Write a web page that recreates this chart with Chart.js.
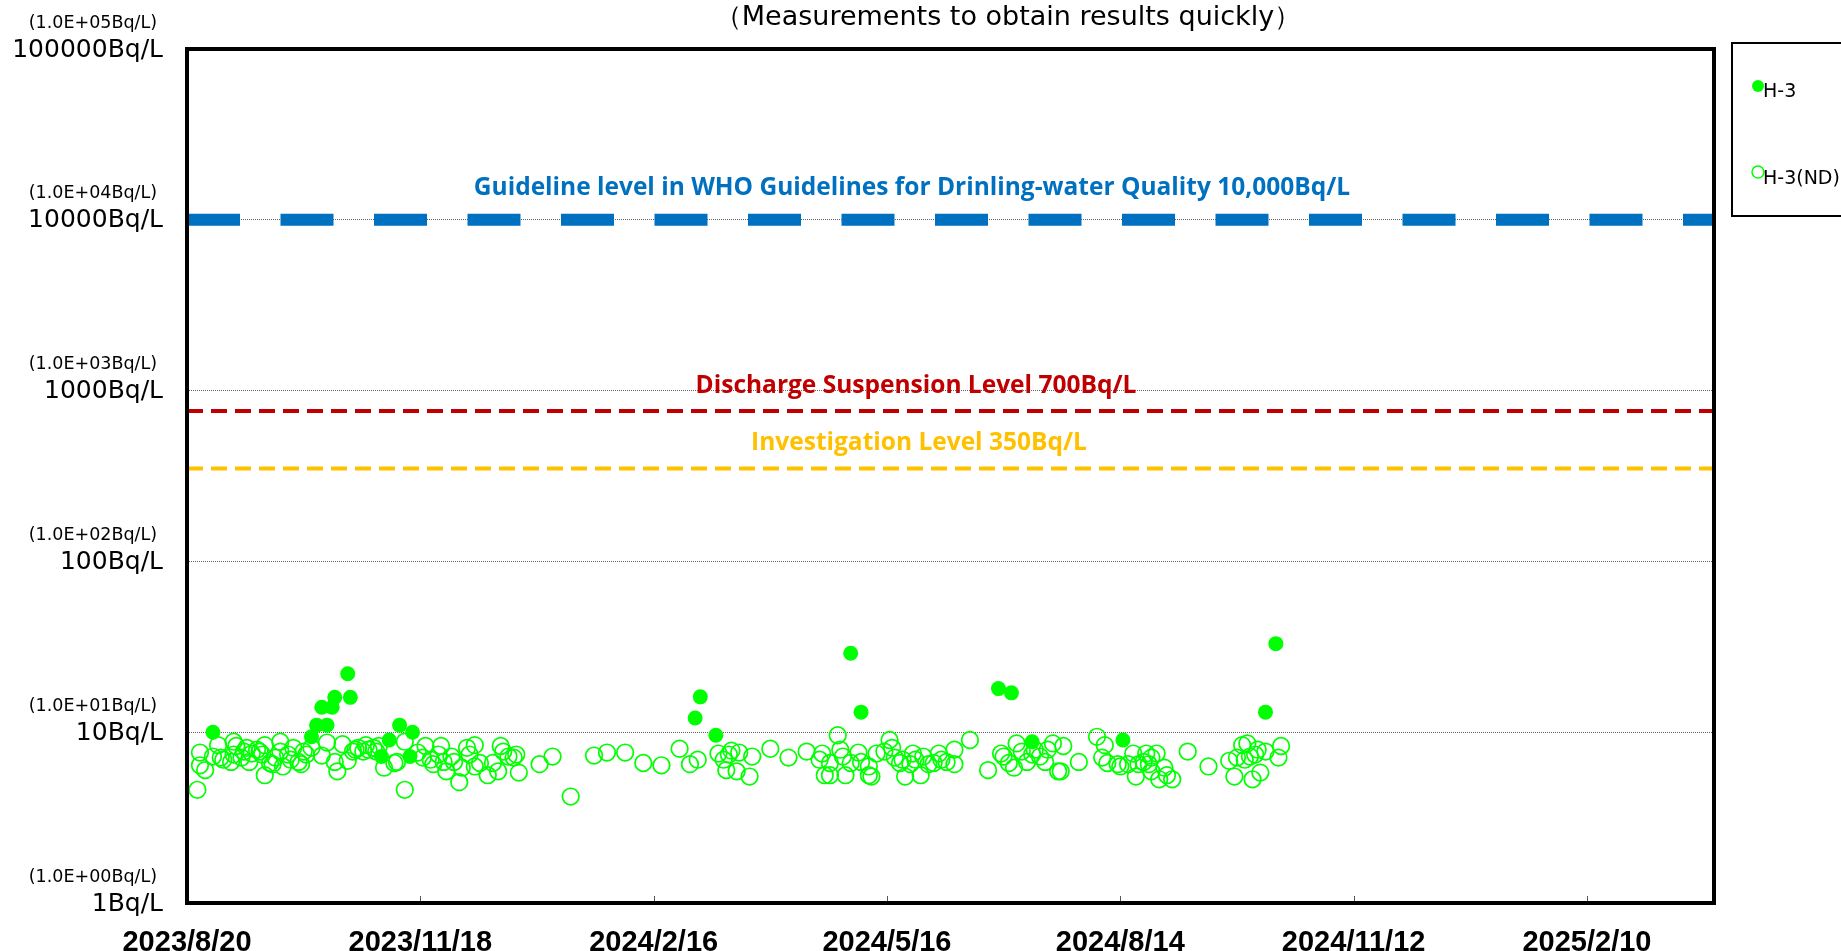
<!DOCTYPE html>
<html>
<head>
<meta charset="utf-8">
<script src="https://cdn.jsdelivr.net/npm/chart.js@4.4.1/dist/chart.umd.min.js"></script>
<style>
  html, body { margin: 0; padding: 0; background: #fff; }
  canvas { display: block; }
</style>
</head>
<body>
<canvas id="chart" width="1841" height="951"></canvas>
<script>
// x values are days since 2023/8/20 (first tick)
const xTickDays = [0, 90, 180, 270, 360, 450, 540];
const xTickLabels = ['2023/8/20', '2023/11/18', '2024/2/16', '2024/5/16', '2024/8/14', '2024/11/12', '2025/2/10'];
const xMaxDay = 589;

const yTickValues = [1, 10, 100, 1000, 10000, 100000];
const yTickMain = ['1Bq/L', '10Bq/L', '100Bq/L', '1000Bq/L', '10000Bq/L', '100000Bq/L'];
const yTickSci = ['(1.0E+00Bq/L)', '(1.0E+01Bq/L)', '(1.0E+02Bq/L)', '(1.0E+03Bq/L)', '(1.0E+04Bq/L)', '(1.0E+05Bq/L)'];

// H-3 detected
const detDays = [10, 48, 50, 52, 54, 56, 57, 62, 63, 75, 78, 82, 86, 87, 196, 198, 204, 256, 260, 313, 318, 326, 361, 416, 420];
const detValues = [10, 9.4, 11, 14, 11, 14, 16, 22, 16, 7.2, 9.0, 11, 7.2, 10, 12.1, 16.1, 9.6, 29, 13.1, 18, 17, 8.8, 9.0, 13.1, 33];

// H-3 not detected (detection limit)
const ndDays = [
  4, 5, 5, 7, 10, 12, 13, 14, 17, 18, 18, 19, 21, 22, 23, 24, 25, 27, 28, 29,
  30, 30, 32, 33, 34, 36, 36, 37, 39, 40, 41, 43, 44, 45, 46, 48, 52, 54, 57, 58,
  60, 62, 64, 65, 66, 68, 69, 70, 72, 73, 74, 76, 80, 81, 84, 84,
  89, 92, 91, 94, 95, 97, 98, 99, 100, 102, 103, 105, 106, 108, 109, 111, 111, 113, 116, 118,
  120, 121, 122, 124, 126, 127, 128, 136, 141, 148, 157, 162, 169,
  176, 183, 190, 194, 197, 205, 207, 208, 209, 210, 212, 213, 217, 218, 225, 232, 239, 244, 245,
  246, 248, 248, 251, 252, 253, 254,
  256, 259, 260, 263, 264, 263, 266, 269, 271, 272, 273, 275, 276, 277, 279, 280, 281, 283, 284, 286,
  288, 290, 291, 293, 296, 296, 302, 309, 314, 315, 317, 319, 320, 322, 324, 326, 327, 329, 331, 332,
  334, 336, 338, 337,
  344, 351, 354, 353, 355, 359, 360, 363, 365, 366, 367, 369, 370, 371, 372, 372, 374, 375, 377, 378,
  380, 386, 394, 402, 404, 405, 407, 408, 409, 410, 411, 412, 413, 414, 416, 421, 422
];
const ndValues = [
  4.6, 7.6, 6.4, 6.0, 7.2, 8.4, 7.1, 6.9, 6.7, 8.8, 7.4, 8.3, 7.1, 7.7, 8.1, 6.7, 7.5, 7.9, 7.7, 7.4,
  5.6, 8.4, 6.6, 6.5, 7.1, 8.8, 7.7, 6.3, 7.4, 6.9, 8.1, 6.7, 6.5, 7.7, 7.4, 8.1, 7.3, 8.7, 6.7, 5.9,
  8.5, 6.8, 7.7, 7.9, 8.1, 7.7, 8.4, 7.9, 8.1, 7.7, 8.3, 6.2, 6.6, 6.7, 4.6, 8.8,
  7.6, 8.3, 7.1, 6.9, 6.5, 7.4, 8.3, 6.7, 5.9, 7.2, 6.7, 5.1, 6.2, 8.1, 7.4, 8.4, 6.3, 6.6, 5.6, 6.6,
  5.9, 8.3, 7.7, 7.2, 7.1, 7.4, 5.8, 6.5, 7.2, 4.2, 7.3, 7.6, 7.6,
  6.6, 6.4, 8.0, 6.5, 6.9, 7.5, 6.9, 6.0, 7.4, 7.8, 5.9, 7.6, 5.5, 7.2, 8.0, 7.1, 7.7, 6.9, 7.5,
  5.6, 5.6, 6.6, 9.6, 7.9, 7.2, 5.6,
  6.6, 7.6, 6.7, 6.3, 5.5, 5.6, 7.5, 7.7, 9.0, 8.1, 7.1, 6.6, 6.9, 5.5, 6.5, 7.5, 6.9, 5.6, 7.2, 6.5,
  6.6, 7.5, 6.9, 6.7, 6.5, 7.9, 9.0, 6.0, 7.5, 7.2, 6.6, 6.2, 8.6, 7.7, 6.7, 7.4, 7.9, 7.2, 6.7, 7.9,
  8.6, 5.9, 8.3, 5.9,
  6.7, 9.4, 8.4, 7.1, 6.6, 6.5, 6.3, 6.5, 7.5, 5.5, 6.5, 6.7, 7.5, 6.5, 7.1, 5.9, 7.5, 5.3, 6.2, 5.6,
  5.3, 7.7, 6.3, 6.8, 5.5, 7.1, 8.4, 6.9, 8.6, 7.2, 5.3, 7.4, 7.9, 5.8, 7.7, 7.1, 8.3
];

const whoLevel = 10000;
const dischargeLevel = 760;
const investigationLevel = 350;

const GREEN = '#00ff00';

const toPoints = (days, vals) => days.map((d, i) => ({ x: d, y: vals[i] }));
const levelLine = v => [{ x: 0, y: v }, { x: xMaxDay, y: v }];

const overlay = {
  id: 'overlay',
  beforeDraw(chart){
    const ctx = chart.ctx;
    ctx.save();
    ctx.fillStyle = '#fff';
    ctx.fillRect(0, 0, chart.width, chart.height);
    ctx.restore();
  },
  afterDraw(chart){
    const { ctx, chartArea: a, scales: { x, y } } = chart;
    ctx.save();

    // y labels, two lines each
    ctx.fillStyle = '#000';
    ctx.textAlign = 'right';
    ctx.textBaseline = 'middle';
    yTickValues.forEach((v, i) => {
      const py = y.getPixelForValue(v);
      ctx.font = '25px "DejaVu Sans"';
      ctx.fillText(yTickMain[i], 163, py + 1);
      ctx.font = '17.5px "DejaVu Sans"';
      ctx.fillText(yTickSci[i], 157, py - 26);
    });

    // small tick marks inside the bottom edge
    ctx.strokeStyle = '#555';
    ctx.lineWidth = 1;
    xTickDays.slice(1).forEach(d => {
      const px = Math.round(x.getPixelForValue(d)) + 0.5;
      ctx.beginPath();
      ctx.moveTo(px, a.bottom);
      ctx.lineTo(px, a.bottom - 7);
      ctx.stroke();
    });

    // plot frame
    ctx.strokeStyle = '#000';
    ctx.lineWidth = 4;
    ctx.strokeRect(a.left, a.top, a.right - a.left, a.bottom - a.top);

    // title
    ctx.textAlign = 'center';
    ctx.font = '27px "DejaVu Sans"';
    ctx.fillText('（Measurements to obtain results quickly）', 1008, 18);

    // level labels
    ctx.font = 'bold 24.5px "Open Sans"';
    ctx.fillStyle = '#0070C0';
    ctx.fillText('Guideline level in WHO Guidelines for Drinling-water Quality 10,000Bq/L', 912, y.getPixelForValue(whoLevel) - 32);
    ctx.fillStyle = '#C00000';
    ctx.fillText('Discharge Suspension Level 700Bq/L', 916, y.getPixelForValue(dischargeLevel) - 25);
    ctx.fillStyle = '#FFC000';
    ctx.fillText('Investigation Level 350Bq/L', 919, y.getPixelForValue(investigationLevel) - 25);

    // legend
    ctx.strokeStyle = '#000';
    ctx.lineWidth = 2;
    ctx.strokeRect(1732, 43, 200, 173);
    ctx.fillStyle = GREEN;
    ctx.beginPath(); ctx.arc(1758, 86, 6, 0, Math.PI * 2); ctx.fill();
    ctx.strokeStyle = GREEN;
    ctx.lineWidth = 1.5;
    ctx.beginPath(); ctx.arc(1758, 172, 6, 0, Math.PI * 2); ctx.stroke();
    ctx.fillStyle = '#000';
    ctx.textAlign = 'left';
    ctx.font = '19px "DejaVu Sans"';
    ctx.fillText('H‐3', 1763, 92);
    ctx.fillText('H‐3(ND)', 1763, 179);

    ctx.restore();
  }
};

new Chart(document.getElementById('chart'), {
  type: 'scatter',
  data: {
    datasets: [
      { label: 'H-3', data: toPoints(detDays, detValues), pointRadius: 7.5, pointBackgroundColor: GREEN, pointBorderColor: GREEN, pointBorderWidth: 0 },
      { label: 'H-3(ND)', data: toPoints(ndDays, ndValues), pointRadius: 8.3, pointBackgroundColor: 'rgba(0,0,0,0)', pointBorderColor: GREEN, pointBorderWidth: 1.7 },
      { type: 'line', data: levelLine(whoLevel), borderColor: '#0070C0', borderWidth: 12, borderDash: [53, 40.5], pointRadius: 0, borderCapStyle: 'butt' },
      { type: 'line', data: levelLine(dischargeLevel), borderColor: '#C00000', borderWidth: 4, borderDash: [16, 8], pointRadius: 0, borderCapStyle: 'butt' },
      { type: 'line', data: levelLine(investigationLevel), borderColor: '#FFC000', borderWidth: 4, borderDash: [16, 8], pointRadius: 0, borderCapStyle: 'butt' },
    ]
  },
  options: {
    responsive: false,
    animation: false,
    devicePixelRatio: 1,
    layout: { padding: { left: 187, top: 49, right: 127, bottom: 0 } },
    plugins: { legend: { display: false }, tooltip: { enabled: false } },
    scales: {
      x: {
        type: 'linear',
        min: 0,
        max: xMaxDay,
        afterBuildTicks: s => { s.ticks = xTickDays.map(v => ({ value: v })); },
        afterFit: s => { s.height = 48; },
        grid: { display: false },
        border: { display: false },
        ticks: {
          autoSkip: false,
          maxRotation: 0,
          padding: 15,
          color: '#000',
          font: { family: '"Liberation Sans", Arial, sans-serif', size: 29, weight: 'bold' },
          callback: (v, i) => xTickLabels[i]
        }
      },
      y: {
        type: 'logarithmic',
        min: 1,
        max: 100000,
        afterBuildTicks: s => { s.ticks = yTickValues.map(v => ({ value: v })); },
        afterFit: s => { s.width = 0; },
        ticks: { display: false },
        grid: { color: '#666', lineWidth: 1, drawTicks: false },
        border: { display: false, dash: [1, 1] }
      }
    }
  },
  plugins: [overlay]
});
</script>
</body>
</html>
